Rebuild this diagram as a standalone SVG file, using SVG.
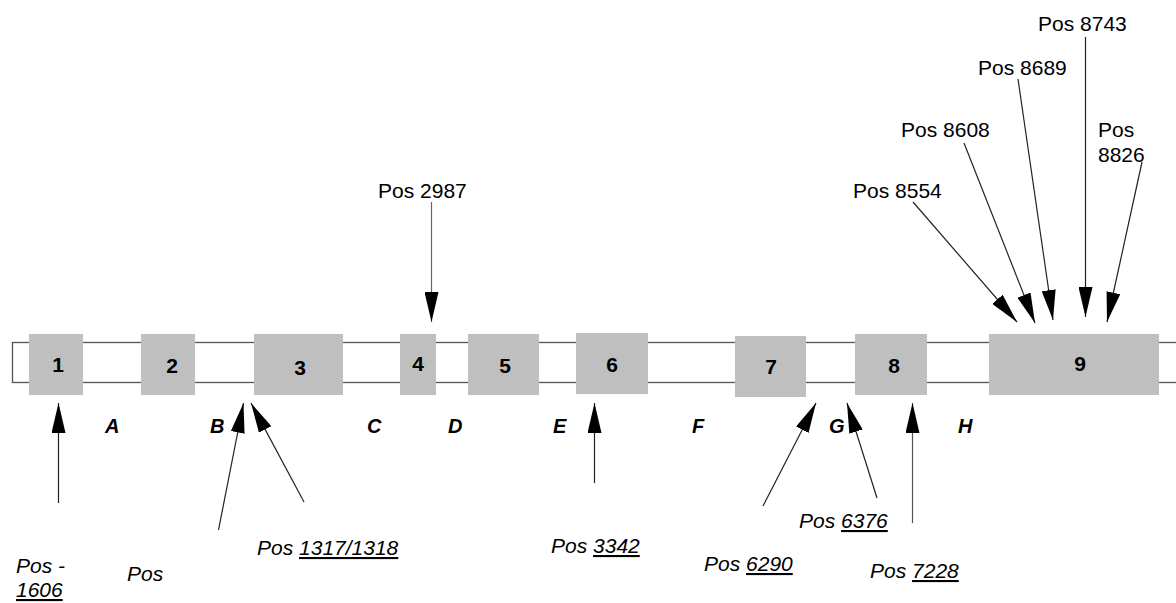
<svg xmlns="http://www.w3.org/2000/svg" width="1176" height="603" viewBox="0 0 1176 603">
<style>
.lbl{font-family:"Liberation Sans",Arial,sans-serif;font-size:21px;fill:#000}
.it{font-style:italic}
.num{font-family:"Liberation Sans",Arial,sans-serif;font-size:21px;font-weight:bold;fill:#000;text-anchor:middle}
.let{font-family:"Liberation Sans",Arial,sans-serif;font-size:20px;font-weight:bold;font-style:italic;fill:#000}
.box{fill:#bebfbe}
.ar{stroke:#222;stroke-width:1.2;fill:none;marker-end:url(#ah)}
</style>
<defs>
<marker id="ah" viewBox="0 0 30 14" refX="30" refY="7" markerWidth="30" markerHeight="14" markerUnits="userSpaceOnUse" orient="auto">
<path d="M0,0 L30,7 L0,14 Z" fill="#000"/>
</marker>
</defs>
<g id="bar"><rect x="12.5" y="342.5" width="1180" height="40" fill="#fff" stroke="#555" stroke-width="1.3"/></g>
<g id="exon1"><rect class="box" x="29" y="334" width="54" height="61"/><text class="num" x="58" y="372">1</text></g>
<g id="exon2"><rect class="box" x="141" y="334" width="54" height="61"/><text class="num" x="172" y="373">2</text></g>
<g id="exon3"><rect class="box" x="254" y="334" width="89" height="61"/><text class="num" x="300" y="375">3</text></g>
<g id="exon4"><rect class="box" x="400" y="334" width="36" height="61"/><text class="num" x="418" y="371">4</text></g>
<g id="exon5"><rect class="box" x="468" y="334" width="71" height="61"/><text class="num" x="505" y="373">5</text></g>
<g id="exon6"><rect class="box" x="576" y="333" width="72" height="61"/><text class="num" x="612" y="372">6</text></g>
<g id="exon7"><rect class="box" x="735" y="336" width="71" height="61"/><text class="num" x="771" y="374">7</text></g>
<g id="exon8"><rect class="box" x="855" y="334" width="72" height="61"/><text class="num" x="894" y="373">8</text></g>
<g id="exon9"><rect class="box" x="989" y="334" width="170" height="61"/><text class="num" x="1080" y="371">9</text></g>
<g id="introns">
<text class="let" x="105" y="433">A</text>
<text class="let" x="210" y="433">B</text>
<text class="let" x="367" y="433">C</text>
<text class="let" x="448" y="433">D</text>
<text class="let" x="553" y="433">E</text>
<text class="let" x="692" y="433">F</text>
<text class="let" x="829" y="433">G</text>
<text class="let" x="958" y="433">H</text>
</g>
<g id="connectors">
<line class="ar" x1="58.5" y1="503" x2="58.5" y2="403"/>
<line class="ar" x1="218.5" y1="530" x2="243.5" y2="403"/>
<line class="ar" x1="304" y1="502" x2="251" y2="403"/>
<line class="ar" x1="594.5" y1="483" x2="594.5" y2="403"/>
<line class="ar" x1="763" y1="506" x2="816" y2="403"/>
<line class="ar" x1="877" y1="498" x2="847" y2="403"/>
<line class="ar" x1="912.5" y1="523" x2="912.5" y2="403" style="stroke:#555"/>
<line class="ar" x1="431.5" y1="202" x2="431.5" y2="322" style="stroke:#666"/>
<line class="ar" x1="913" y1="202" x2="1017" y2="322"/>
<line class="ar" x1="964" y1="143" x2="1035" y2="323"/>
<line class="ar" x1="1018" y1="79" x2="1053" y2="320"/>
<line class="ar" x1="1085.5" y1="37" x2="1085.5" y2="317"/>
<line class="ar" x1="1142" y1="162" x2="1107" y2="322"/>
</g>
<g id="labels-top">
<text class="lbl" x="378" y="198">Pos 2987</text>
<text class="lbl" x="853" y="198">Pos 8554</text>
<text class="lbl" x="901" y="137">Pos 8608</text>
<text class="lbl" x="978" y="75">Pos 8689</text>
<text class="lbl" x="1038" y="31">Pos 8743</text>
<text class="lbl" x="1098" y="137">Pos</text>
<text class="lbl" x="1098" y="162">8826</text>
</g>
<g id="labels-bottom">
<text class="lbl it" x="16" y="573">Pos -</text>
<text class="lbl it" x="16" y="597" text-decoration="underline">1606</text>
<text class="lbl it" x="127" y="581">Pos</text>
<text class="lbl it" x="257" y="555">Pos <tspan text-decoration="underline">1317/1318</tspan></text>
<text class="lbl it" x="551" y="553">Pos <tspan text-decoration="underline">3342</tspan></text>
<text class="lbl it" x="704" y="571">Pos <tspan text-decoration="underline">6290</tspan></text>
<text class="lbl it" x="799" y="528">Pos <tspan text-decoration="underline">6376</tspan></text>
<text class="lbl it" x="870" y="578">Pos <tspan text-decoration="underline">7228</tspan></text>
</g>
</svg>
